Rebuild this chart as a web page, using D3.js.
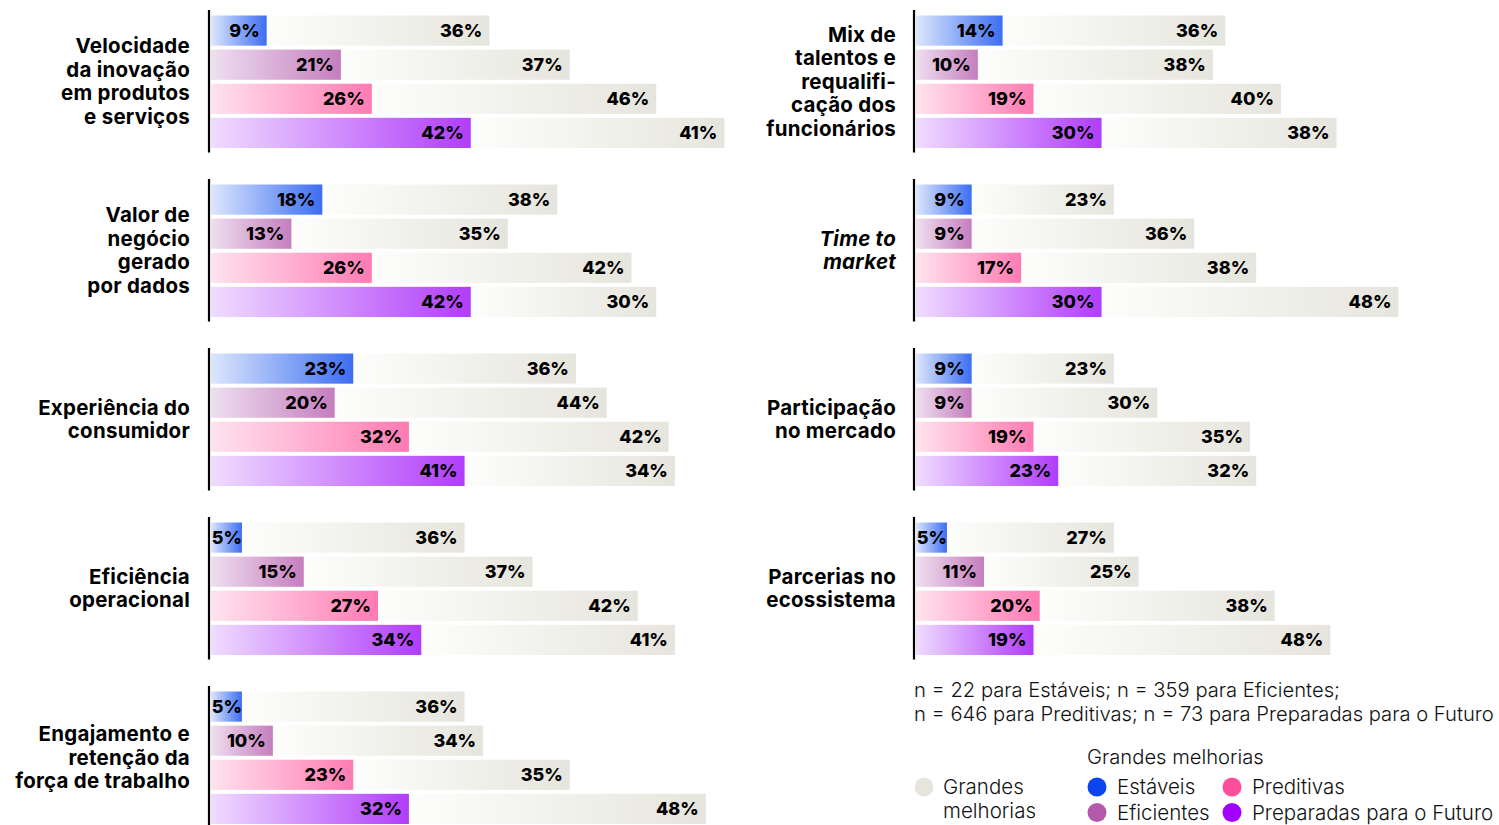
<!DOCTYPE html>
<html><head><meta charset="utf-8">
<script src="https://cdn.jsdelivr.net/npm/d3@7"></script>
<style>
html,body{margin:0;padding:0;background:#fff;}
svg{display:block;font-family:Inter,"Noto Sans",sans-serif;}
</style></head>
<body><svg id="c" width="1499" height="825"></svg>
<script>
// ---- data ----
const segments = ["Estáveis","Eficientes","Preditivas","Preparadas para o Futuro"];
const leftCategories = [
  ["Velocidade","da inovação","em produtos","e serviços"],
  ["Valor de","negócio","gerado","por dados"],
  ["Experiência do","consumidor"],
  ["Eficiência","operacional"],
  ["Engajamento e","retenção da","força de trabalho"]
];
const leftColored = [[9,21,26,42],[18,13,26,42],[23,20,32,41],[5,15,27,34],[5,10,23,32]];
const leftGray    = [[36,37,46,41],[38,35,42,30],[36,44,42,34],[36,37,42,41],[36,34,35,48]];
const rightCategories = [
  ["Mix de","talentos e","requalifi-","cação dos","funcionários"],
  ["Time to","market"],
  ["Participação","no mercado"],
  ["Parcerias no","ecossistema"]
];
const rightItalic = [false,true,false,false];
const rightColored = [[14,10,19,30],[9,9,17,30],[9,9,19,23],[5,11,20,19]];
const rightGray    = [[36,38,40,38],[23,36,38,48],[23,30,35,32],[27,25,38,48]];
const notes = ["n = 22 para Estáveis; n = 359 para Eficientes;","n = 646 para Preditivas; n = 73 para Preparadas para o Futuro"];
const legendTitle = "Grandes melhorias";
const grayLegend = ["Grandes","melhorias"];

// ---- style ----
const gradStops = [["#dce6fc","#3d6ef2"],["#eedff0","#c57ebe"],["#ffe3ee","#ff7bb2"],["#efdcff","#b13dfa"]];
const grayStops = ["#fdfdfc","#e6e5dd"];
const legendColors = ["#0a45f0","#b45aac","#ff4f9b","#a100ff"];
const grayLegendColor = "#e6e5dd";

const svg = d3.select("#c");
const defs = svg.append("defs");
gradStops.forEach((s,i)=>{
  const g = defs.append("linearGradient").attr("id","g"+i).attr("x1","0%").attr("x2","100%");
  g.append("stop").attr("offset","0%").attr("stop-color",s[0]);
  g.append("stop").attr("offset","100%").attr("stop-color",s[1]);
});
const gg = defs.append("linearGradient").attr("id","gg").attr("x1","0%").attr("x2","100%");
gg.append("stop").attr("offset","0%").attr("stop-color",grayStops[0]);
gg.append("stop").attr("offset","100%").attr("stop-color",grayStops[1]);

const pxPerPct = 6.185;
const groupStep = 169;
const y0 = 15.5;

function drawColumn(axisX, labelX, cats, colored, gray, italics){
  const x = d3.scaleLinear().domain([0,100]).range([axisX+2, axisX+2+100*pxPerPct]);
  const band = d3.scaleBand().domain(d3.range(4)).range([0,132.5]).paddingInner(0.115).paddingOuter(0);
  cats.forEach((lines,gi)=>{
    const gy = y0 + gi*groupStep;
    const g = svg.append("g").attr("transform",`translate(0,${gy})`);
    const rows = d3.range(4).map(i=>({i, c:colored[gi][i], g:gray[gi][i]}));
    g.selectAll("rect.gr").data(rows).join("rect")
      .attr("x",d=>x(d.c)).attr("y",d=>band(d.i))
      .attr("width",d=>x(d.c+d.g)-x(d.c)).attr("height",band.bandwidth())
      .attr("fill","url(#gg)");
    g.selectAll("rect.co").data(rows).join("rect")
      .attr("x",x(0)).attr("y",d=>band(d.i))
      .attr("width",d=>x(d.c)-x(0)).attr("height",band.bandwidth())
      .attr("fill",d=>`url(#g${d.i})`);
    g.selectAll("text.cv").data(rows).join("text")
      .attr("x",d=>Math.max(x(d.c)-7, x(0)+31)).attr("y",d=>band(d.i)+band.bandwidth()/2)
      .attr("dy","0.36em").attr("text-anchor","end")
      .attr("font-size",18).attr("font-weight",800).attr("fill","#000")
      .text(d=>d.c+"%");
    g.selectAll("text.gv").data(rows).join("text")
      .attr("x",d=>x(d.c+d.g)-7).attr("y",d=>band(d.i)+band.bandwidth()/2)
      .attr("dy","0.36em").attr("text-anchor","end")
      .attr("font-size",18).attr("font-weight",800).attr("fill","#000")
      .text(d=>d.g+"%");
    g.append("line").attr("x1",axisX).attr("x2",axisX).attr("y1",-5.5).attr("y2",137)
      .attr("stroke","#000").attr("stroke-width",2.2);
    const lh = 23.5;
    const cy = 66;
    const t = g.append("text").attr("text-anchor","end").attr("font-size",20.5).attr("font-weight",700)
      .attr("letter-spacing","0.25px")
      .attr("fill","#000").attr("font-style", italics && italics[gi] ? "italic":"normal");
    lines.forEach((l,li)=>{
      t.append("tspan").attr("x",labelX).attr("y",cy + (li-(lines.length-1)/2)*lh).attr("dy","0.35em").text(l);
    });
  });
}
drawColumn(209, 190, leftCategories, leftColored, leftGray, null);
drawColumn(914, 896, rightCategories, rightColored, rightGray, rightItalic);

notes.forEach((n,i)=>{
  svg.append("text").attr("x",914).attr("y",690+i*23.5).attr("dy","0.35em")
    .attr("font-size",20.2).attr("font-weight",300).attr("fill","#111").text(n);
});
svg.append("text").attr("x",1087).attr("y",757).attr("dy","0.35em").attr("font-size",20.2)
  .attr("font-weight",300).attr("fill","#111").text(legendTitle);
svg.append("circle").attr("cx",924).attr("cy",787).attr("r",9.5).attr("fill",grayLegendColor);
grayLegend.forEach((l,i)=>svg.append("text").attr("x",943).attr("y",787+i*23.5).attr("dy","0.35em")
  .attr("font-size",20.5).attr("font-weight",300).attr("fill","#111").text(l));
const legPos = [[1097,787],[1097,812.5],[1232,787],[1232,812.5]];
segments.forEach((s,i)=>{
  svg.append("circle").attr("cx",legPos[i][0]).attr("cy",legPos[i][1]).attr("r",9.5).attr("fill",legendColors[i]);
  svg.append("text").attr("x",legPos[i][0]+20).attr("y",legPos[i][1]).attr("dy","0.35em")
    .attr("font-size",20.5).attr("font-weight",300).attr("fill","#111").text(s);
});
</script></body></html>
